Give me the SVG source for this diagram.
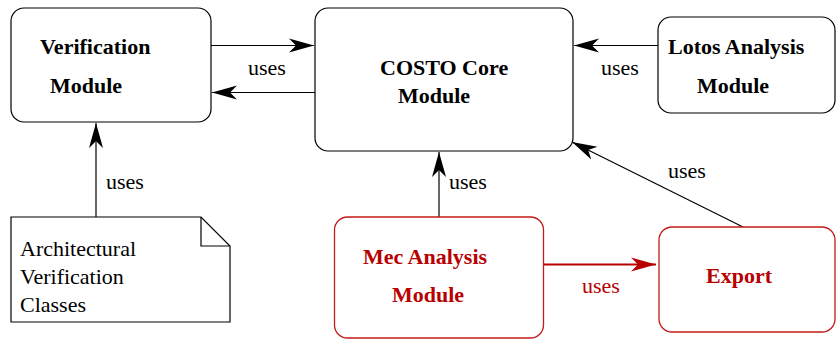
<svg xmlns="http://www.w3.org/2000/svg" width="837" height="339" viewBox="0 0 837 339">
  <style>
    .box { fill: #ffffff; stroke: #000000; stroke-width: 1.2; }
    .rbox { fill: #ffffff; stroke: #c41a1a; stroke-width: 1.3; }
    text { font-size: 22px; fill: #000000; }
    .bold { font-weight: bold; }
    .red { fill: #b80000; }
    .edge { fill: none; stroke: #000000; stroke-width: 1.2; }
    .redge { fill: none; stroke: #b80000; stroke-width: 2.2; }
  </style>
  <defs>
    <marker id="ah" markerUnits="userSpaceOnUse" markerWidth="30" markerHeight="18" viewBox="-27 -9 30 18" refX="0" refY="0" orient="auto" overflow="visible">
      <path d="M0,0 L-25,-7 L-18,0 L-25,7 Z" fill="#000000"/>
    </marker>
    <marker id="ahr" markerUnits="userSpaceOnUse" markerWidth="30" markerHeight="18" viewBox="-27 -9 30 18" refX="0" refY="0" orient="auto" overflow="visible">
      <path d="M0,0 L-25,-7 L-18,0 L-25,7 Z" fill="#b80000"/>
    </marker>
  </defs>

  <rect width="837" height="339" fill="#ffffff"/>

  <g font-family="Liberation Serif, DejaVu Serif, serif">
  <!-- connectors -->
  <g id="connectors">
    <line class="edge" x1="211" y1="45.5" x2="314" y2="45.5" marker-end="url(#ah)"/>
    <line class="edge" x1="315" y1="92.5" x2="212" y2="92.5" marker-end="url(#ah)"/>
    <line class="edge" x1="658" y1="45.5" x2="574" y2="45.5" marker-end="url(#ah)"/>
    <line class="edge" x1="96" y1="217" x2="96" y2="123" marker-end="url(#ah)"/>
    <line class="edge" x1="439" y1="217" x2="439" y2="152" marker-end="url(#ah)"/>
    <line class="edge" x1="743" y1="227" x2="572" y2="142" marker-end="url(#ah)"/>
    <line class="redge" x1="544" y1="264.5" x2="656" y2="264.5" marker-end="url(#ahr)"/>
    <text x="248" y="75">uses</text>
    <text x="601" y="75">uses</text>
    <text x="106" y="189">uses</text>
    <text x="449" y="189">uses</text>
    <text x="668" y="178">uses</text>
    <text class="red" x="582" y="293">uses</text>
  </g>

  <!-- Verification Module -->
  <g id="verification">
    <rect class="box" x="11" y="8" width="200" height="114" rx="13"/>
    <text class="bold" x="40" y="54">Verification</text>
    <text class="bold" x="50" y="93">Module</text>
  </g>

  <!-- COSTO Core Module -->
  <g id="costo">
    <rect class="box" x="315" y="8" width="258" height="143" rx="13"/>
    <text class="bold" x="380" y="75">COSTO Core</text>
    <text class="bold" x="398" y="103">Module</text>
  </g>

  <!-- Lotos Analysis Module -->
  <g id="lotos">
    <rect class="box" x="658" y="17" width="177" height="96" rx="13"/>
    <text class="bold" x="668" y="54">Lotos Analysis</text>
    <text class="bold" x="697" y="93">Module</text>
  </g>

  <!-- Architectural Verification Classes (note) -->
  <g id="classes">
    <path class="box" d="M11,217 L201,217 L230,246 L230,322 L11,322 Z"/>
    <path class="edge" d="M201,217 L201,246 L230,246"/>
    <text x="20" y="256">Architectural</text>
    <text x="20" y="284">Verification</text>
    <text x="20" y="312">Classes</text>
  </g>

  <!-- Mec Analysis Module -->
  <g id="mec">
    <rect class="rbox" x="334.5" y="217" width="209" height="121" rx="13"/>
    <text class="bold red" x="363" y="264">Mec Analysis</text>
    <text class="bold red" x="392" y="302">Module</text>
  </g>

  <!-- Export -->
  <g id="export">
    <rect class="rbox" x="659" y="227" width="176" height="105" rx="13"/>
    <text class="bold red" x="706" y="283">Export</text>
  </g>
  </g>
</svg>
